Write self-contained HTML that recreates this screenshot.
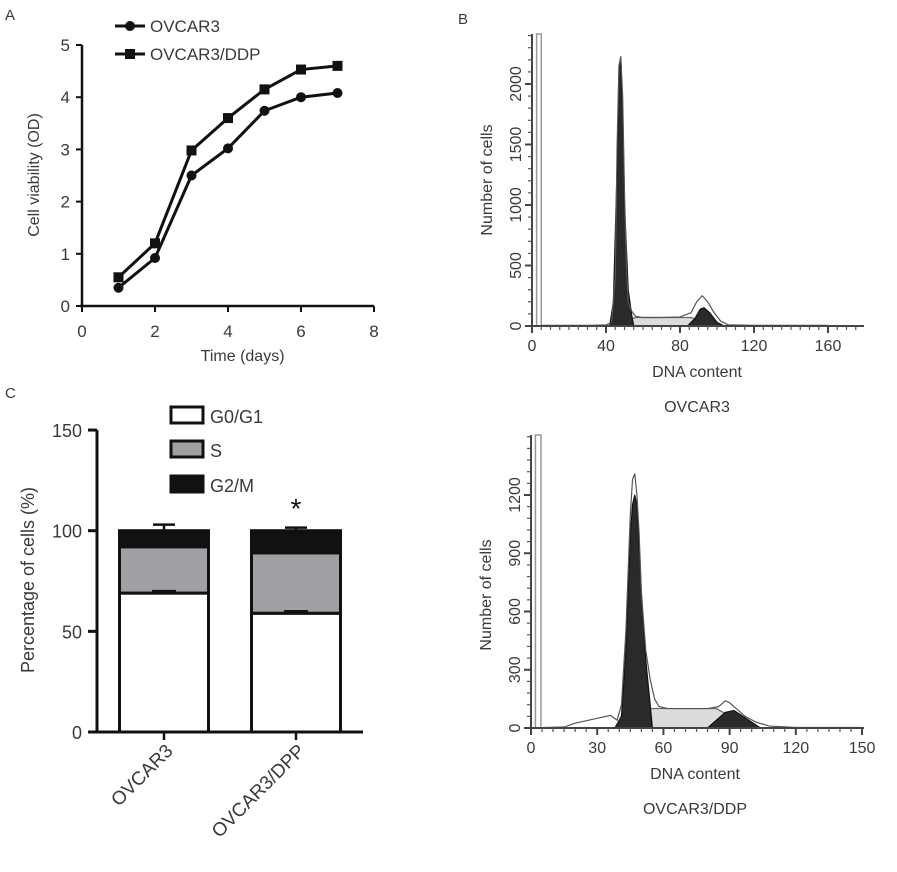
<!DOCTYPE html>
<html><head><meta charset="utf-8"><style>
body{margin:0;background:#fff;}
svg{display:block;font-family:"Liberation Sans",Arial,sans-serif;}
text{fill:#3a3a3a;}
</style></head><body>
<svg id="fig" width="897" height="872" viewBox="0 0 897 872" xmlns="http://www.w3.org/2000/svg">
<text x="5" y="20" font-size="15">A</text>
<text x="458" y="24" font-size="15">B</text>
<text x="5" y="398" font-size="15">C</text>
<g id="pa"></g>
<g id="pb"></g>
<g id="pc"></g>
<g id="pd"></g>
</svg>
<script>
const NS="http://www.w3.org/2000/svg";
function mk(p,t,a,txt){const e=document.createElementNS(NS,t);for(const k in a)e.setAttribute(k,a[k]);if(txt!==undefined)e.textContent=txt;p.appendChild(e);return e;}

// ---------- Panel A ----------
const daysA=[1,2,3,4,5,6,7];
const ovcar3A=[0.35,0.92,2.5,3.02,3.74,4.0,4.08];
const ddpA=[0.55,1.2,2.98,3.6,4.15,4.53,4.6];
const xTicksA=[0,2,4,6,8];
const yTicksA=[0,1,2,3,4,5];
(function(){
 const g=document.getElementById('pa');
 const X=v=>82+v*36.5, Y=v=>306-v*52.2;
 let e=mk(g,'line',{x1:82,y1:Y(5),x2:82,y2:306,stroke:'#111','stroke-width':2.5});
 
 e=mk(g,'line',{x1:80,y1:306,x2:X(8),y2:306,stroke:'#111','stroke-width':2.5});
 
 yTicksA.forEach(v=>{mk(g,'line',{x1:76,y1:Y(v),x2:82,y2:Y(v),stroke:'#111','stroke-width':2});
  e=mk(g,'text',{x:70,y:Y(v)+6,'font-size':17,'text-anchor':'end'},v);
  });
 xTicksA.forEach(v=>{mk(g,'line',{x1:X(v),y1:306,x2:X(v),y2:312,stroke:'#111','stroke-width':2});
  e=mk(g,'text',{x:X(v),y:337,'font-size':17,'text-anchor':'middle'},v);
  });
 e=mk(g,'text',{x:X(4.4),y:361,'font-size':16,'text-anchor':'middle'},'Time (days)');
 
 e=mk(g,'text',{x:0,y:0,'font-size':16,'text-anchor':'middle',transform:'translate(39,175) rotate(-90)'},'Cell viability (OD)');
 
 const pts=a=>a.map((v,i)=>X(daysA[i])+','+Y(v)).join(' ');
 e=mk(g,'polyline',{points:pts(ddpA),fill:'none',stroke:'#111','stroke-width':3});
 
 e=mk(g,'polyline',{points:pts(ovcar3A),fill:'none',stroke:'#111','stroke-width':3});
 
 ddpA.forEach((v,i)=>{e=mk(g,'rect',{x:X(daysA[i])-5,y:Y(v)-5,width:10,height:10,fill:'#111'});
  });
 ovcar3A.forEach((v,i)=>{e=mk(g,'circle',{cx:X(daysA[i]),cy:Y(v),r:5,fill:'#111'});
  });
 e=mk(g,'g',{});
 mk(e,'line',{x1:115,y1:26,x2:145,y2:26,stroke:'#111','stroke-width':3});
 mk(e,'circle',{cx:130,cy:26,r:5,fill:'#111'});
 mk(e,'text',{x:150,y:32,'font-size':17},'OVCAR3');
 e=mk(g,'g',{});
 mk(e,'line',{x1:115,y1:54,x2:145,y2:54,stroke:'#111','stroke-width':3});
 mk(e,'rect',{x:125,y:49,width:10,height:10,fill:'#111'});
 mk(e,'text',{x:150,y:60,'font-size':17},'OVCAR3/DDP');
})();

// ---------- Panel C ----------
const groupsC=['OVCAR3','OVCAR3/DPP'];
const g1C=[69,59];
const sC=[23,30];
const g2mC=[8,11];
const errTopC=[3,1.5];
const yTicksC=[0,50,100,150];
(function(){
 const g=document.getElementById('pc');
 const Y=v=>732-v*2.013; const cx=[164,296]; const bw=89;
 let e;
 groupsC.forEach((n,i)=>{
  const x0=cx[i]-bw/2; let base=0;
  [[g1C[i],'#fff','bar-g0g1'],[sC[i],'#a0a0a4','bar-s'],[g2mC[i],'#111','bar-g2m']].forEach(([v,c,nm])=>{
   e=mk(g,'rect',{x:x0,y:Y(base+v),width:bw,height:v*2.013,fill:c,stroke:'#111','stroke-width':3});
   
   base+=v;});
  const tot=g1C[i]+sC[i]+g2mC[i];
  mk(g,'line',{x1:cx[i],y1:Y(tot),x2:cx[i],y2:Y(tot+errTopC[i]),stroke:'#111','stroke-width':2.5});
  mk(g,'line',{x1:cx[i]-11,y1:Y(tot+errTopC[i]),x2:cx[i]+11,y2:Y(tot+errTopC[i]),stroke:'#111','stroke-width':2.5});
  mk(g,'line',{x1:cx[i]-12,y1:Y(g1C[i]+1),x2:cx[i]+12,y2:Y(g1C[i]+1),stroke:'#111','stroke-width':2.5});
  mk(g,'line',{x1:cx[i],y1:732,x2:cx[i],y2:740,stroke:'#111','stroke-width':2.5});
  e=mk(g,'text',{x:0,y:0,'font-size':19,'text-anchor':'end',transform:'translate('+(cx[i]+10)+',752) rotate(-45)'},n);
  
 });
 e=mk(g,'line',{x1:97,y1:Y(150),x2:97,y2:733,stroke:'#111','stroke-width':3});
 
 e=mk(g,'line',{x1:88,y1:732,x2:363,y2:732,stroke:'#111','stroke-width':3});
 
 yTicksC.forEach(v=>{mk(g,'line',{x1:88,y1:Y(v),x2:97,y2:Y(v),stroke:'#111','stroke-width':3});
  e=mk(g,'text',{x:82,y:Y(v)+7,'font-size':18,'text-anchor':'end'},v);
  });
 e=mk(g,'text',{x:0,y:0,'font-size':18,'text-anchor':'middle',transform:'translate(34,580) rotate(-90)'},'Percentage of cells (%)');
 
 e=mk(g,'text',{x:296,y:518,'font-size':28,'text-anchor':'middle',style:'fill:#111'},'*');
 
 [['G0/G1','#fff',407],['S','#a0a0a4',441],['G2/M','#111',476]].forEach(([t,c,y])=>{
  e=mk(g,'g',{});
  mk(e,'rect',{x:171,y:y,width:32,height:16,fill:c,stroke:'#111','stroke-width':3});
  mk(e,'text',{x:210,y:y+16,'font-size':18},t);});
})();

// ---------- Histograms ----------
function hist(g,o){
 const X=v=>o.x0+v*o.sx, Y=v=>o.y0-v*o.sy; let e;
 mk(g,'rect',{x:X(o.gate[0]),y:o.top,width:X(o.gate[1])-X(o.gate[0]),height:o.y0-o.top,fill:'#fff',stroke:'#999','stroke-width':1.5});
 const poly=(xs,ys,fill,stroke,nm)=>{const p=xs.map((x,i)=>X(x)+','+Y(ys[i])).join(' ');
  const el=mk(g,'polygon',{points:p,fill:fill,stroke:stroke,'stroke-width':1.2});
  };
 poly(o.sX,o.sY,'#dcdcdc','#666','s-phase-fill');
 poly(o.g1X,o.g1Y,'#2a2a2a','#111','g1-peak-fill');
 poly(o.g2X,o.g2Y,'#2a2a2a','#111','g2m-peak-fill');
 const p=o.hX.map((x,i)=>X(x)+','+Y(o.hY[i])).join(' ');
 e=mk(g,'polyline',{points:p,fill:'none',stroke:'#555','stroke-width':1.2});
 
 e=mk(g,'line',{x1:o.x0,y1:o.top,x2:o.x0,y2:o.y0,stroke:'#444','stroke-width':2});
 
 e=mk(g,'line',{x1:o.x0,y1:o.y0,x2:o.xEnd,y2:o.y0,stroke:'#444','stroke-width':2});
 
 for(let v=0;Y(v)>=o.top;v+=o.yMinor){mk(g,'line',{x1:o.x0-4,y1:Y(v),x2:o.x0,y2:Y(v),stroke:'#555','stroke-width':1.2});}
 for(let v=0;X(v)<=o.xEnd;v+=o.xMinor){mk(g,'line',{x1:X(v),y1:o.y0,x2:X(v),y2:o.y0+4,stroke:'#555','stroke-width':1.2});}
 o.yT.forEach(v=>{mk(g,'line',{x1:o.x0-7,y1:Y(v),x2:o.x0,y2:Y(v),stroke:'#444','stroke-width':2});
  e=mk(g,'text',{x:0,y:0,'font-size':16,'text-anchor':'middle',transform:'translate('+(o.x0-11)+','+Y(v)+') rotate(-90)'},v);
  });
 o.xT.forEach(v=>{mk(g,'line',{x1:X(v),y1:o.y0,x2:X(v),y2:o.y0+7,stroke:'#444','stroke-width':2});
  e=mk(g,'text',{x:X(v),y:o.y0+25,'font-size':16,'text-anchor':'middle'},v);
  });
 e=mk(g,'text',{x:o.titleX,y:o.y0+51,'font-size':16,'text-anchor':'middle'},'DNA content');
 
 e=mk(g,'text',{x:0,y:0,'font-size':16,'text-anchor':'middle',transform:'translate('+(o.x0-40)+','+o.ylabY+') rotate(-90)'},'Number of cells');
 
 e=mk(g,'text',{x:o.titleX,y:o.y0+86,'font-size':16,'text-anchor':'middle'},o.name);
 
}
// Panel B data
const bHistX=[5,30,40,43,45,46,47,48,49,50,51,52,54,56,60,70,80,86,89,92,95,98,102,106,120,160];
const bHistY=[5,5,8,30,400,1500,2150,2230,1900,1100,500,200,120,80,70,70,75,110,200,250,200,120,40,10,5,5];
const bG1X=[42,44,46,47,48,49,50,52,54,55];
const bG1Y=[0,200,1300,2100,2200,1800,1000,300,80,0];
const bSX=[46,50,56,86,92,96];
const bSY=[0,45,70,70,40,0];
const bG2X=[84,88,91,93,96,100,104];
const bG2Y=[0,60,140,150,110,30,0];
hist(document.getElementById('pb'),{x0:532,sx:1.85,y0:326,sy:60.5/500,top:34,xEnd:864,gate:[2.5,5],
 hX:bHistX,hY:bHistY,g1X:bG1X,g1Y:bG1Y,sX:bSX,sY:bSY,g2X:bG2X,g2Y:bG2Y,
 yT:[0,500,1000,1500,2000],xT:[0,40,80,120,160],yMinor:100,xMinor:5,titleX:697,ylabY:180,name:'OVCAR3'});
// Panel D data
const dHistX=[5,15,20,30,36,39,41,43,45,46,47,48,49,50,52,54,56,58,62,70,80,85,88,90,93,97,102,108,120,150];
const dHistY=[2,5,25,50,65,40,120,500,1100,1280,1310,1200,1000,700,400,250,150,110,100,100,100,110,140,130,100,60,30,10,3,3];
const dG1X=[38,41,43,45,46,47,48,49,50,52,54,55];
const dG1Y=[0,60,400,1000,1150,1200,1150,950,700,350,120,0];
const dSX=[40,46,52,84,92,100];
const dSY=[0,40,100,100,50,0];
const dG2X=[80,88,92,96,104];
const dG2Y=[0,80,90,60,0];
hist(document.getElementById('pd'),{x0:531,sx:2.207,y0:728,sy:233/1200,top:435,xEnd:864,gate:[2,4.5],
 hX:dHistX,hY:dHistY,g1X:dG1X,g1Y:dG1Y,sX:dSX,sY:dSY,g2X:dG2X,g2Y:dG2Y,
 yT:[0,300,600,900,1200],xT:[0,30,60,90,120,150],yMinor:60,xMinor:5,titleX:695,ylabY:595,name:'OVCAR3/DDP'});
</script>
</body></html>
